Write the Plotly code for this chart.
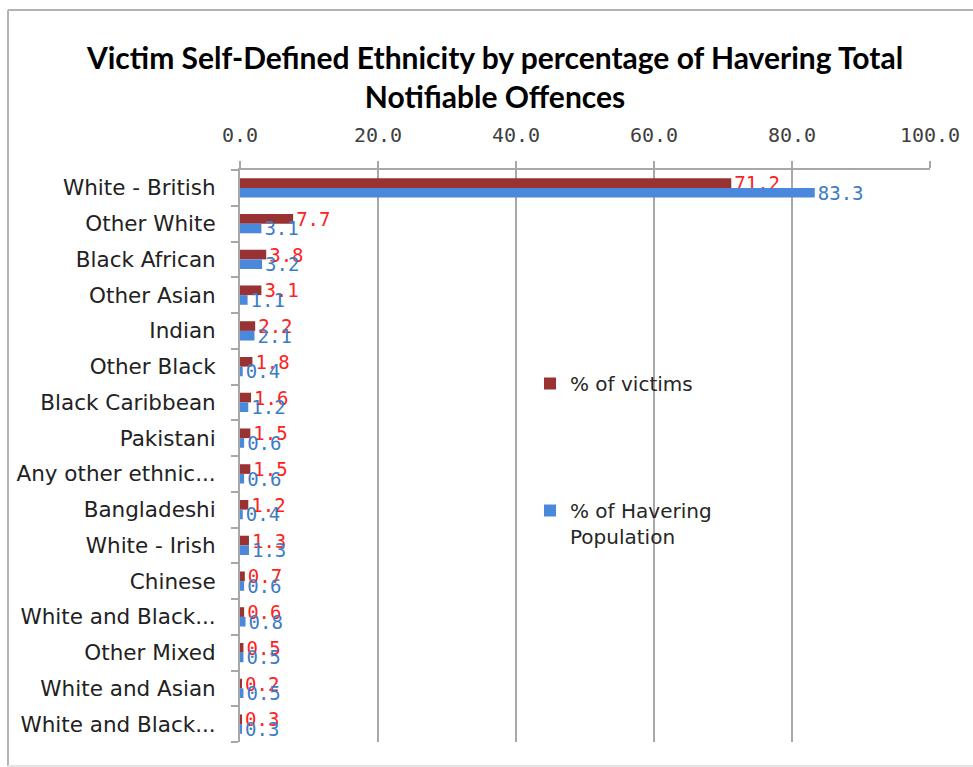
import plotly.graph_objects as go

# Ethnic groups, top to bottom (full names; two are shown truncated)
categories = [
    "White - British", "Other White", "Black African", "Other Asian", "Indian",
    "Other Black", "Black Caribbean", "Pakistani", "Any other ethnic group",
    "Bangladeshi", "White - Irish", "Chinese", "White and Black African",
    "Other Mixed", "White and Asian", "White and Black Caribbean",
]
tick_labels = [
    "White - British", "Other White", "Black African", "Other Asian", "Indian",
    "Other Black", "Black Caribbean", "Pakistani", "Any other ethnic...",
    "Bangladeshi", "White - Irish", "Chinese", "White and Black...",
    "Other Mixed", "White and Asian", "White and Black...",
]
pct_victims = [71.2, 7.7, 3.8, 3.1, 2.2, 1.8, 1.6, 1.5, 1.5, 1.2, 1.3, 0.7, 0.6, 0.5, 0.2, 0.3]
pct_population = [83.3, 3.1, 3.2, 1.1, 2.1, 0.4, 1.2, 0.6, 0.6, 0.4, 1.3, 0.6, 0.8, 0.5, 0.5, 0.3]
x_ticks = [0, 20, 40, 60, 80, 100]

W, H = 973, 767
L, R, T, B = 240, 43, 170, 25
pw, ph = W - L - R, H - T - B

def px_to_paper_x(px):
    return (px - L) / pw

def px_to_paper_y(py):
    return 1 - (py - T) / ph

fig = go.Figure()
fig.add_trace(go.Bar(
    y=categories, x=pct_victims, orientation="h", name="% of victims",
    marker=dict(color="#993333", line=dict(width=0)),
    text=[f"{v:.1f}" for v in pct_victims], textposition="outside",
    textfont=dict(family="DejaVu Sans Mono", size=19, color="#ff2222"),
    constraintext="none", legendgroup="a",
))
fig.add_trace(go.Bar(
    y=categories, x=pct_population, orientation="h", name="% of Havering<br>Population",
    marker=dict(color="#4a88dc", line=dict(width=0)),
    text=[f"{v:.1f}" for v in pct_population], textposition="outside",
    textfont=dict(family="DejaVu Sans Mono", size=19, color="#3b7cc6"),
    constraintext="none", legendgroup="b",
))

# chart frame: left, top and bottom edges (right edge runs off the page)
frame_color = "#b4b4b4"
fx0, fx1 = px_to_paper_x(8), px_to_paper_x(1000)
fy_top, fy_bot = px_to_paper_y(10), px_to_paper_y(766)
frame = [
    dict(type="line", xref="paper", yref="paper", x0=fx0, x1=fx0, y0=fy_bot, y1=fy_top,
         line=dict(color=frame_color, width=2)),
    dict(type="line", xref="paper", yref="paper", x0=fx0, x1=fx1, y0=fy_top, y1=fy_top,
         line=dict(color=frame_color, width=2)),
    dict(type="line", xref="paper", yref="paper", x0=fx0, x1=fx1, y0=fy_bot, y1=fy_bot,
         line=dict(color="#e4e4e4", width=2)),
]

fig.update_layout(
    width=W, height=H,
    margin=dict(l=L, r=R, t=T, b=B, pad=0),
    paper_bgcolor="white", plot_bgcolor="white",
    barmode="group", bargap=0.46, bargroupgap=0,
    title=dict(
        text="Victim Self-Defined Ethnicity by percentage of Havering Total<br>Notifiable Offences",
        font=dict(family="Lato", size=30, color="black", weight="bold"),
        xref="container", x=495 / W, xanchor="center",
        yref="container", y=1 - 69 / H, yanchor="top",
    ),
    showlegend=True,
    legend=dict(
        x=px_to_paper_x(530), xanchor="left",
        y=px_to_paper_y(364), yanchor="top",
        font=dict(family="DejaVu Sans", size=20, color="#262626"),
        tracegroupgap=98, bgcolor="rgba(0,0,0,0)", valign="top",
        itemclick=False,
    ),
    xaxis=dict(
        side="top", range=[0, 100], tickvals=x_ticks, tickformat=".1f",
        showgrid=True, gridcolor="#a8a8a8", gridwidth=2,
        showline=True, linecolor="#a8a8a8", linewidth=2,
        ticks="outside", ticklen=7, tickcolor="#a8a8a8", tickwidth=2,
        tickfont=dict(family="DejaVu Sans Mono", size=20, color="#404040"),
        ticklabelstandoff=11, zeroline=False,
    ),
    yaxis=dict(
        type="category", categoryorder="array", categoryarray=categories,
        tickvals=categories, ticktext=tick_labels,
        autorange="reversed", showgrid=False,
        showline=True, linecolor="#a8a8a8", linewidth=2,
        ticks="outside", tickson="boundaries", ticklen=7,
        tickcolor="#a8a8a8", tickwidth=2,
        tickfont=dict(family="DejaVu Sans", size=21.5, color="#222222"),
        ticklabelstandoff=18,
    ),
    shapes=frame,
)

fig.write_html("out.html")
